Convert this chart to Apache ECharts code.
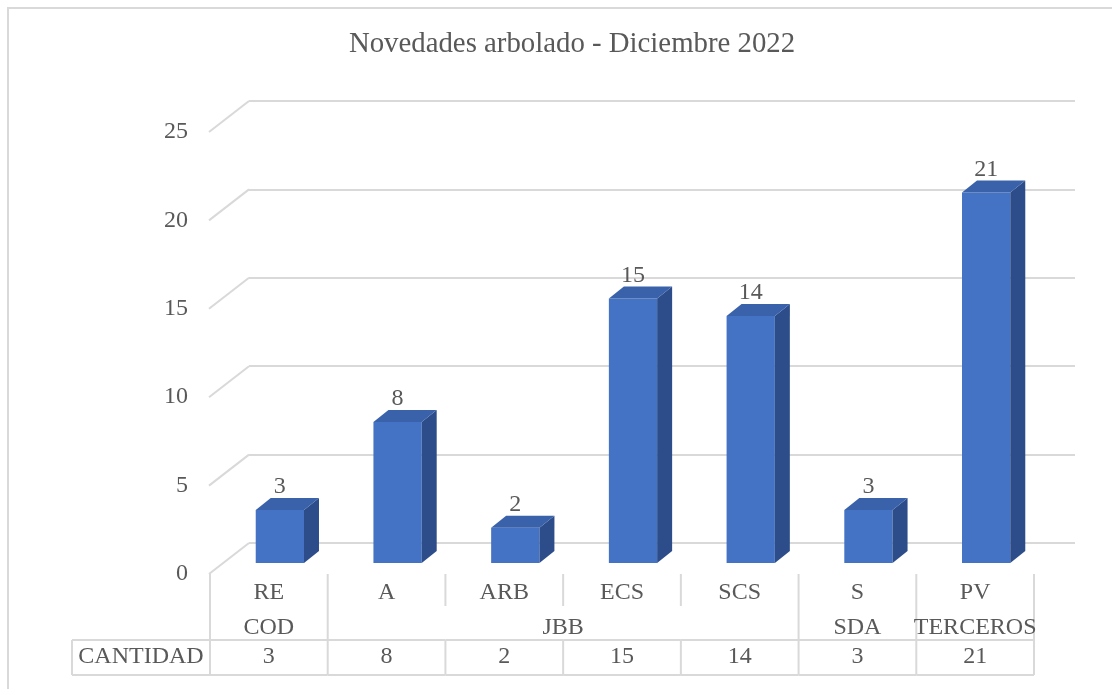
<!DOCTYPE html>
<html>
<head>
<meta charset="utf-8">
<title>Novedades arbolado - Diciembre 2022</title>
<script src="https://cdn.jsdelivr.net/npm/echarts@6/dist/echarts.min.js"></script>
<style>
  html, body { margin: 0; padding: 0; background: #fff; }
  #chart { width: 1112px; height: 689px; }
</style>
</head>
<body>
<div id="chart"></div>
<script>
// datos
var categories = ['RE', 'A', 'ARB', 'ECS', 'SCS', 'S', 'PV'];
var cantidad = [3, 8, 2, 15, 14, 3, 21];
// agrupacion del segundo nivel de etiquetas: [inicio, fin]
var groupNames = ['COD', 'JBB', 'SDA', 'TERCEROS'];
var groupSpans = [[0, 0], [1, 4], [5, 5], [6, 6]];
var yTicks = [0, 5, 10, 15, 20, 25];
var seriesName = 'CANTIDAD';

var FONT = '"Liberation Serif", "Times New Roman", serif';
var TXT = '#595959';
var LINE = '#d9d9d9';
var C_FRONT = '#4472c4';
var C_TOP = '#3a62aa';
var C_SIDE = '#2d4d8a';

// grupo de cada categoria
var groupOf = categories.map(function (c, i) {
  for (var g = 0; g < groupSpans.length; g++) {
    if (i >= groupSpans[g][0] && i <= groupSpans[g][1]) return g;
  }
  return -1;
});

var chart = echarts.init(document.getElementById('chart'));

/**
 * columna 3D: cara frontal, lateral y superior
 */
function renderBar(params, api) {
  var v = api.value(1);
  var top = api.coord([api.value(0), v]);
  var base = api.coord([api.value(0), 0]);
  var w = api.size([1, 0])[0] * 0.41;
  var x0 = top[0] - w / 2;
  var x1 = top[0] + w / 2;
  var dx = 15, dy = -12;
  return {
    type: 'group',
    children: [
      {
        type: 'rect',
        shape: { x: x0, y: top[1], width: w, height: base[1] - top[1] },
        style: { fill: C_FRONT }
      },
      {
        type: 'polygon',
        shape: { points: [[x1, top[1]], [x1 + dx, top[1] + dy], [x1 + dx, base[1] + dy], [x1, base[1]]] },
        style: { fill: C_SIDE }
      },
      {
        type: 'polygon',
        shape: { points: [[x0, top[1]], [x0 + dx, top[1] + dy], [x1 + dx, top[1] + dy], [x1, top[1]]] },
        style: { fill: C_TOP }
      },
      {
        type: 'text',
        style: {
          text: String(v), x: top[0], y: top[1] + dy + 1,
          align: 'center', verticalAlign: 'bottom',
          font: '24px ' + FONT, fill: TXT
        }
      }
    ]
  };
}

/**
 * lineas diagonales de la pared lateral
 */
function renderDiag(params, api) {
  var p = api.coord([0, api.value(1)]);
  var x = p[0] - api.size([1, 0])[0] / 2;
  return {
    type: 'line',
    shape: { x1: x, y1: p[1], x2: x - 40, y2: p[1] + 31 },
    style: { stroke: LINE, lineWidth: 2 }
  };
}

/**
 * tabla de datos: celdas, etiqueta de primer nivel y valor
 */
function renderTable(params, api) {
  var i = api.value(0);
  var c = api.coord([i, 0]);
  var bw = api.size([1, 0])[0];
  var xl = c[0] - bw / 2;
  var xr = c[0] + bw / 2;
  var y0 = c[1];
  var yMid = y0 + 32, yRow = y0 + 66, yEnd = y0 + 101;
  var st = { stroke: LINE, lineWidth: 2 };
  var kids = [];
  var fullLeft = i === 0 || groupOf[i] !== groupOf[i - 1];
  kids.push({ type: 'line', shape: { x1: xl, y1: y0, x2: xl, y2: fullLeft ? yEnd : yMid }, style: st });
  if (!fullLeft) kids.push({ type: 'line', shape: { x1: xl, y1: yRow, x2: xl, y2: yEnd }, style: st });
  if (i === categories.length - 1) {
    kids.push({ type: 'line', shape: { x1: xr, y1: y0, x2: xr, y2: yEnd }, style: st });
  }
  kids.push({ type: 'line', shape: { x1: xl, y1: yRow, x2: xr, y2: yRow }, style: st });
  kids.push({ type: 'line', shape: { x1: xl, y1: yEnd, x2: xr, y2: yEnd }, style: st });
  kids.push({
    type: 'text',
    style: { text: categories[i], x: c[0], y: y0 + 19, align: 'center', verticalAlign: 'middle', font: '24px ' + FONT, fill: TXT }
  });
  kids.push({
    type: 'text',
    style: { text: String(api.value(1)), x: c[0], y: yRow + 17, align: 'center', verticalAlign: 'middle', font: '24px ' + FONT, fill: TXT }
  });
  if (i === 0) {
    var hx = xl - 138;
    kids.push({ type: 'line', shape: { x1: hx, y1: yRow, x2: xl, y2: yRow }, style: st });
    kids.push({ type: 'line', shape: { x1: hx, y1: yEnd, x2: xl, y2: yEnd }, style: st });
    kids.push({ type: 'line', shape: { x1: hx, y1: yRow, x2: hx, y2: yEnd }, style: st });
    kids.push({
      type: 'text',
      style: { text: seriesName, x: (hx + xl) / 2, y: yRow + 17, align: 'center', verticalAlign: 'middle', font: '24px ' + FONT, fill: TXT }
    });
  }
  return { type: 'group', children: kids };
}

/**
 * etiquetas de segundo nivel
 */
function renderGroup(params, api) {
  var a = api.coord([api.value(0), 0]);
  var b = api.coord([api.value(1), 0]);
  return {
    type: 'text',
    style: {
      text: groupNames[params.dataIndex], x: (a[0] + b[0]) / 2, y: a[1] + 54,
      align: 'center', verticalAlign: 'middle', font: '24px ' + FONT, fill: TXT
    }
  };
}

var hiddenCat = { type: 'category', data: categories, show: false };

var option = {
  animation: false,
  backgroundColor: '#fff',
  title: {
    text: 'Novedades arbolado - Diciembre 2022',
    left: 567,
    top: 25,
    textAlign: 'center',
    textStyle: { fontFamily: FONT, fontSize: 28.8, fontWeight: 'normal', color: TXT }
  },
  graphic: [{
    type: 'rect',
    shape: { x: 8, y: 8, width: 1300, height: 1000 },
    style: { fill: null, stroke: LINE, lineWidth: 2 },
    silent: true
  }],
  grid: [
    // plano frontal (etiquetas del eje y tabla)
    { left: 210, right: 78, top: 132, bottom: 115 },
    // pared del fondo
    { left: 249, right: 37, top: 101, bottom: 146 },
    // plano de las columnas
    { left: 221, right: 67, top: 122, bottom: 126 }
  ],
  xAxis: [
    Object.assign({ gridIndex: 0 }, hiddenCat),
    Object.assign({ gridIndex: 1 }, hiddenCat),
    Object.assign({ gridIndex: 2 }, hiddenCat)
  ],
  yAxis: [
    {
      gridIndex: 0, type: 'value', min: 0, max: 25, interval: 5,
      axisLine: { show: false }, axisTick: { show: false }, splitLine: { show: false },
      axisLabel: { margin: 22, fontFamily: FONT, fontSize: 24, color: TXT }
    },
    {
      gridIndex: 1, type: 'value', min: 0, max: 25, interval: 5,
      axisLine: { show: false }, axisTick: { show: false }, axisLabel: { show: false },
      splitLine: { lineStyle: { color: LINE, width: 2 } }
    },
    { gridIndex: 2, type: 'value', min: 0, max: 25, interval: 5, show: false }
  ],
  series: [
    {
      type: 'custom', name: 'diag', xAxisIndex: 1, yAxisIndex: 1, silent: true,
      data: yTicks.map(function (t) { return [0, t]; }),
      renderItem: renderDiag
    },
    {
      type: 'custom', name: seriesName, xAxisIndex: 2, yAxisIndex: 2,
      data: cantidad.map(function (v, i) { return [i, v]; }),
      renderItem: renderBar
    },
    {
      type: 'custom', name: 'tabla', xAxisIndex: 0, yAxisIndex: 0, silent: true,
      data: cantidad.map(function (v, i) { return [i, v]; }),
      renderItem: renderTable
    },
    {
      type: 'custom', name: 'grupos', xAxisIndex: 0, yAxisIndex: 0, silent: true,
      encode: { x: [0, 1], y: 2 },
      data: groupSpans.map(function (s) { return [s[0], s[1], 0]; }),
      renderItem: renderGroup
    }
  ]
};

chart.setOption(option);
</script>
</body>
</html>
